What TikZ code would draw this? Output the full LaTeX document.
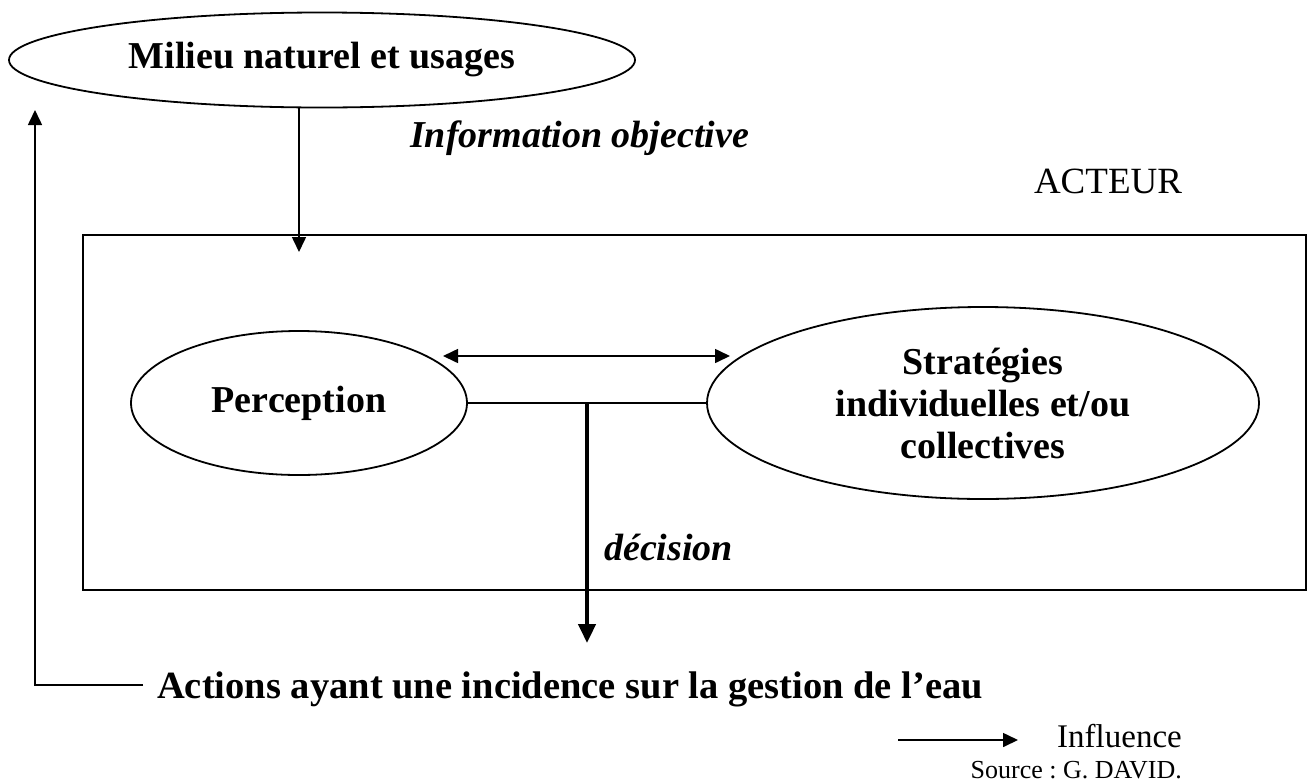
\documentclass[tikz,border=0pt]{standalone}
\usepackage{fontspec}
\setmainfont{Liberation Serif}
\frenchspacing
\usetikzlibrary{shapes.geometric,arrows.meta}
\tikzset{
  oval/.style={draw, ellipse, line width=1.8pt, inner sep=0pt, align=center},
  bigb/.style={font=\fontsize{38}{42}\selectfont\bfseries},
  thin/.style={line width=1.6pt},
  arr/.style={thin, -{Triangle[length=15pt,width=14pt]}},
  darr/.style={thin, {Triangle[length=15pt,width=14pt]}-{Triangle[length=15pt,width=14pt]}},
  thickarr/.style={line width=4.5pt, -{Triangle[length=19pt,width=17pt]}},
}
\begin{document}
\begin{tikzpicture}[x=1pt,y=-1pt]
\useasboundingbox (0,0) rectangle (1314,782);
% top ellipse
\node[oval, bigb, minimum width=626pt, minimum height=95pt] (milieu) at (322,60) {Milieu naturel et usages};
% frame
\node[draw, line width=2.2pt, minimum width=1223pt, minimum height=355pt, inner sep=0pt] (box) at (694.5,412.5) {};
% inner ellipses
\node[oval, bigb, minimum width=336pt, minimum height=144pt] (perc) at (299,403) {Perception};
\node[oval, bigb, minimum width=552pt, minimum height=192pt] (strat) at (983,403) {Stratégies\\individuelles et/ou\\collectives};
% labels
\node[anchor=base west, font=\fontsize{38}{42}\selectfont\bfseries\itshape, inner sep=0pt] (info) at (410,147) {Information objective};
\node[anchor=base, font=\fontsize{37}{42}\selectfont, inner sep=0pt] (acteur) at (1108,193) {ACTEUR};
\node[anchor=base west, font=\fontsize{38}{42}\selectfont\bfseries\itshape, inner sep=0pt] (dec) at (604,560) {décision};
\node[anchor=base, font=\fontsize{38.5}{42}\selectfont\bfseries, inner sep=0pt] (actions) at (570,698) {Actions ayant une incidence sur la gestion de l’eau};
\node[anchor=base east, font=\fontsize{33}{36}\selectfont, inner sep=0pt] (infl) at (1182,747) {Influence};
\node[anchor=base east, font=\fontsize{26}{30}\selectfont, inner sep=0pt] (src) at (1182,778) {Source : G. DAVID.};
% coordinates
\coordinate (infotip) at (299,252);
\coordinate (dl) at (443,356);
\coordinate (dr) at (730,356);
\coordinate (decstart) at (587,403);
\coordinate (dectip) at (587,643);
\coordinate (actstart) at (143,685);
\coordinate (corner) at (35,685);
\coordinate (leftip) at (35,110);
\coordinate (legs) at (898,740);
\coordinate (lege) at (1018,740);
% connectors
\draw[arr] (milieu.south -| perc.north) -- (infotip);
\draw[darr] (dl) -- (dr);
\draw[thin] (perc.east) -- (strat.west);
\draw[thickarr] (decstart) -- (dectip);
\draw[arr] (actstart) -- (corner) -- (leftip);
\draw[arr] (legs) -- (lege);
\end{tikzpicture}
\end{document}
